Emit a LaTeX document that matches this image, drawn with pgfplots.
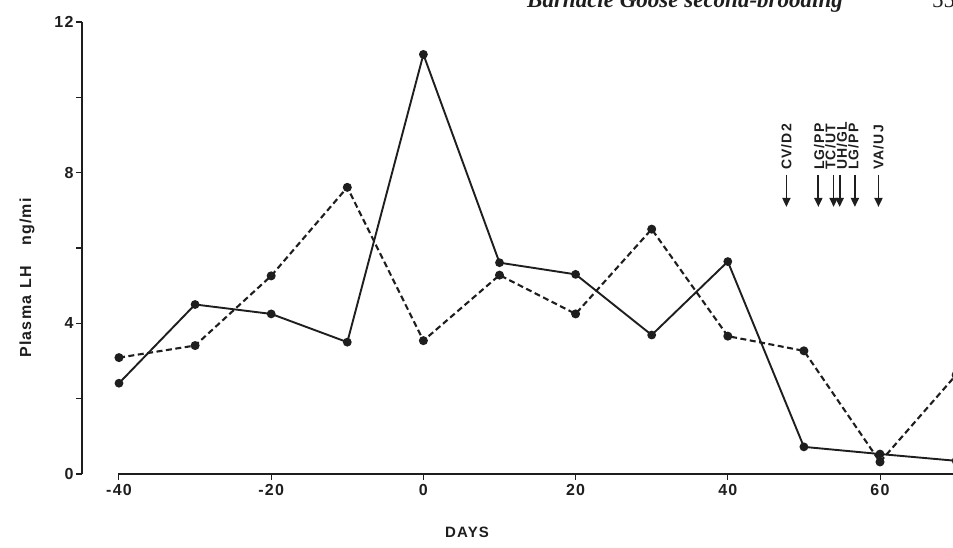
\documentclass[border=0pt]{standalone}
\usepackage{fontspec}
\setmainfont{Liberation Sans}
\newfontfamily\headfont{Liberation Serif}
\newfontfamily\spaced[LetterSpace=8]{Liberation Sans}
\usepackage{pgfplots}
\pgfplotsset{compat=1.18}
\usetikzlibrary{arrows.meta}
\definecolor{ink}{HTML}{1E1E1E}

% one pixel of the scan = 1pt
\begin{document}
\begin{tikzpicture}
\useasboundingbox (0,0) rectangle (953pt,548pt);
\begin{axis}[
  at={(82pt,74pt)}, anchor=south west,
  scale only axis, width=876pt, height=452pt,
  xmin=-44.86, xmax=70.25, ymin=0, ymax=12,
  axis x line=bottom, axis y line=left,
  axis line style={-, ink, line width=2.4pt},
  x axis line style={shorten <=36pt},
  xtick={-40,-20,0,20,40,60},
  ytick={0,4,8,12}, minor ytick={2,6,10},
  tick align=outside,
  major tick length=6pt, minor tick length=6pt,
  x tick style={line width=1pt, ink},
  y tick style={line width=1.5pt, ink},
  /pgf/number format/assume math mode=true,
  ticklabel style={font=\fontsize{16}{18}\selectfont\bfseries\spaced, ink},
  yticklabel style={xshift=1pt},
  xticklabel style={yshift=-1pt},
  clip=true,
]
\addplot[ink, line width=1.9pt, mark=*, mark size=3.4pt] coordinates {
  (-40,2.41) (-30,4.50) (-20,4.25) (-10,3.50) (0,11.14) (10,5.61)
  (20,5.30) (30,3.69) (40,5.64) (50,0.72) (60,0.53) (70,0.35)
};
\addplot[ink, line width=2.1pt, dash pattern=on 6pt off 3.5pt, mark=*, mark size=3.4pt,
  mark options={solid}] coordinates {
  (-40,3.09) (-30,3.41) (-20,5.26) (-10,7.61) (0,3.54) (10,5.28)
  (20,4.25) (30,6.50) (40,3.66) (50,3.27) (60,0.32) (70,2.63)
};
% hatching dates
\foreach \d in {47.7,51.9,53.9,54.7,56.7,59.8}{
  \edef\tmp{\noexpand\draw[ink, line width=1.8pt, -{Triangle[length=9pt,width=8pt]}]
    (axis cs:\d,7.94) -- (axis cs:\d,7.09);}
  \tmp
}
\tikzset{hatch/.style={rotate=90, anchor=west, inner sep=0pt, ink,
  font=\fontsize{14}{15}\selectfont\bfseries\spaced}}
\node[hatch] at (axis cs:47.7,8.07) {CV/D2};
\node[hatch] at (axis cs:52.0,8.07) {LG/PP};
\node[hatch] at (axis cs:53.5,8.07) {TC/UT};
\node[hatch] at (axis cs:55.0,8.07) {UH/GL};
\node[hatch] at (axis cs:56.5,8.07) {LG/PP};
\node[hatch] at (axis cs:59.8,8.07) {VA/UJ};
\end{axis}
\node[rotate=90, anchor=base, ink, font=\fontsize{16}{18}\selectfont\bfseries\spaced]
  at (31pt,270pt) {Plasma\hspace{7pt}LH\hspace{20pt}ng/mi};
\node[anchor=base, ink, font=\fontsize{15}{17}\selectfont\bfseries\spaced]
  at (467pt,10pt) {DAYS};
\node[anchor=base west, inner sep=0pt, ink, font=\fontsize{23}{25}\selectfont\headfont\bfseries\itshape]
  at (527pt,540pt) {Barnacle Goose second-brooding};
\node[anchor=base west, inner sep=0pt, ink, font=\fontsize{23}{25}\selectfont\headfont]
  at (932pt,540pt) {55};
\end{tikzpicture}
\end{document}
